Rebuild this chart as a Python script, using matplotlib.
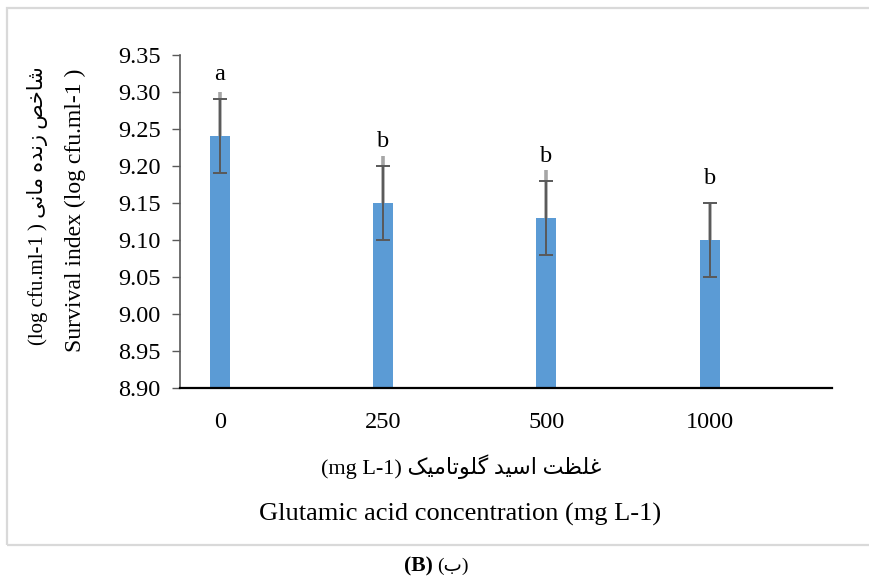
import numpy as np
import matplotlib
matplotlib.use("Agg")
from matplotlib import pyplot as plt
from matplotlib.patches import Rectangle

# glutamic acid treatments and survival index
doses = ["0", "250", "500", "1000"]
survival = [9.24, 9.15, 9.13, 9.10]
err_dark = [0.05, 0.05, 0.05, 0.05]
err_light_up = [0.06, 0.064, 0.064, 0.05]
letters = ["a", "b", "b", "b"]
yticks = [8.90, 8.95, 9.00, 9.05, 9.10, 9.15, 9.20, 9.25, 9.30, 9.35]

# presentation forms: isolated, final, initial, medial
FORMS = {
	"\u0627": ("\uFE8D", "\uFE8E", None, None),
	"\u0628": ("\uFE8F", "\uFE90", "\uFE91", "\uFE92"),
	"\u062A": ("\uFE95", "\uFE96", "\uFE97", "\uFE98"),
	"\u062E": ("\uFEA5", "\uFEA6", "\uFEA7", "\uFEA8"),
	"\u062F": ("\uFEA9", "\uFEAA", None, None),
	"\u0632": ("\uFEAF", "\uFEB0", None, None),
	"\u0633": ("\uFEB1", "\uFEB2", "\uFEB3", "\uFEB4"),
	"\u0634": ("\uFEB5", "\uFEB6", "\uFEB7", "\uFEB8"),
	"\u0635": ("\uFEB9", "\uFEBA", "\uFEBB", "\uFEBC"),
	"\u0638": ("\uFEC5", "\uFEC6", "\uFEC7", "\uFEC8"),
	"\u063A": ("\uFECD", "\uFECE", "\uFECF", "\uFED0"),
	"\u0644": ("\uFEDD", "\uFEDE", "\uFEDF", "\uFEE0"),
	"\u0645": ("\uFEE1", "\uFEE2", "\uFEE3", "\uFEE4"),
	"\u0646": ("\uFEE5", "\uFEE6", "\uFEE7", "\uFEE8"),
	"\u0647": ("\uFEE9", "\uFEEA", "\uFEEB", "\uFEEC"),
	"\u0648": ("\uFEED", "\uFEEE", None, None),
	"\u06CC": ("\uFBFC", "\uFBFD", "\uFBFE", "\uFBFF"),
	"\u06A9": ("\uFB8E", "\uFB8F", "\uFB90", "\uFB91"),
	"\u06AF": ("\uFB92", "\uFB93", "\uFB94", "\uFB95"),
}

def rtl(text):
	""" shape persian letters and return them in visual order """
	out = []
	for i, ch in enumerate(text):
		if ch not in FORMS:
			out.append(ch)
			continue
		prev = text[i-1] if i > 0 else ""
		nxt = text[i+1] if i+1 < len(text) else ""
		join_prev = prev in FORMS and FORMS[prev][2] is not None
		join_next = nxt in FORMS and FORMS[ch][2] is not None
		iso, fin, ini, med = FORMS[ch]
		if join_prev and join_next:
			out.append(med)
		elif join_prev:
			out.append(fin)
		elif join_next:
			out.append(ini)
		else:
			out.append(iso)
	return "".join(out)[::-1]

fa_ylabel = "\u0634\u0627\u062E\u0635 \u0632\u0646\u062F\u0647 \u0645\u0627\u0646\u06CC"
fa_xlabel = "\u063A\u0644\u0638\u062A \u0627\u0633\u06CC\u062F \u06AF\u0644\u0648\u062A\u0627\u0645\u06CC\u06A9"
fa_panel = "\u0628"

plt.rcParams['font.family'] = ['Liberation Serif', 'DejaVu Sans']

W, H = 869, 583
fig = plt.figure(figsize=(W/100, H/100), dpi=100)
ax = fig.add_axes([180/W, 1-388/H, (832-180)/W, (388-55)/H])

x = np.arange(len(doses))
ax.bar(x, survival, width=0.123, color='#5b9bd5', zorder=2)
up = np.array(err_light_up)
ax.errorbar(x, survival, yerr=[np.zeros(len(x)), up], fmt='none',
	ecolor='#a6a6a6', elinewidth=2.6, capsize=0, zorder=3)
ax.errorbar(x, survival, yerr=err_dark, fmt='none', ecolor='#595959',
	elinewidth=1.4, capsize=5, capthick=1.4, zorder=4)

for i in range(len(x)):
	ax.text(x[i], survival[i]+err_dark[i]+0.033, letters[i], ha='center',
		va='center', fontsize=17.5, color='black')

ax.set_ylim(8.90, 9.35)
ax.set_xlim(-0.245, 3.75)
ax.set_yticks(yticks)
ax.set_yticklabels(['%.2f' % v for v in yticks])
ax.set_xticks(x)
ax.set_xticklabels(doses)
ax.tick_params(axis='y', length=6, width=1, color='#595959', pad=8, labelsize=17.5)
ax.tick_params(axis='x', length=0, pad=17, labelsize=17.5)

for s in ['top', 'right']:
	ax.spines[s].set_visible(False)
ax.spines['left'].set_color('#595959')
ax.spines['left'].set_linewidth(1.2)
ax.spines['bottom'].set_color('black')
ax.spines['bottom'].set_linewidth(1.6)

# axis titles, persian above english
fig.text(38/W, 1-206/H, "(log cfu.ml-1 ) " + rtl(fa_ylabel), rotation=90,
	ha='center', va='center', fontsize=15)
fig.text(75/W, 1-210/H, "Survival index (log cfu.ml-1 )", rotation=90,
	ha='center', va='center', fontsize=17)
fig.text(461/W, 1-467/H, "(mg L-1) " + rtl(fa_xlabel), ha='center',
	va='center', fontsize=16)
fig.text(460/W, 1-514/H, "Glutamic acid concentration (mg L-1)",
	ha='center', va='center', fontsize=19)

fig.add_artist(Rectangle((7.5/W, 1-545/H), 1.0, (545-7.5)/H,
	transform=fig.transFigure, fill=False, ec='#d9d9d9', lw=1.6))

fig.text(433/W, 1-566/H, "(B)", ha='right', va='center', fontsize=15.5,
	fontweight='bold')
fig.text(437/W, 1-566/H, "(" + rtl(fa_panel) + ")", ha='left',
	va='center', fontsize=14)

fig.savefig('out.png', dpi=100)
